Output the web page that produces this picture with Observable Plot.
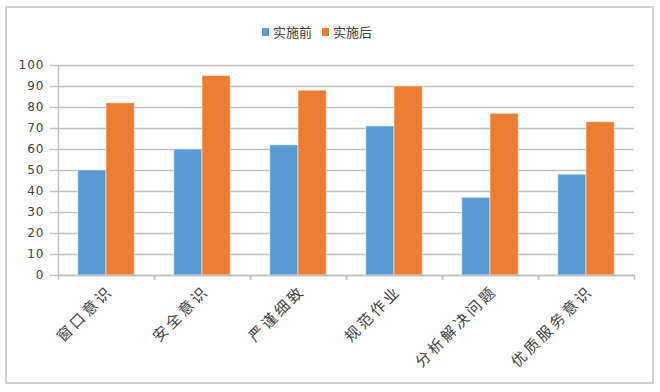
<!DOCTYPE html>
<html>
<head>
<meta charset="utf-8">
<script src="https://cdn.jsdelivr.net/npm/d3@7"></script>
<script src="https://cdn.jsdelivr.net/npm/@observablehq/plot@0.6"></script>
<style>
  html, body { margin: 0; padding: 0; background: #fff; width: 660px; height: 392px; overflow: hidden; }
  #frame { position: absolute; left: 5px; top: 6px; width: 645px; height: 374px; border: 2px solid #d0d0d0; pointer-events: none; }
  #legend { height: 50px; position: relative; font-family: "Noto Sans CJK SC", sans-serif; font-size: 13px; color: #404040; }
  #legend .item { position: absolute; top: 22px; display: flex; align-items: center; }
  #legend .sw { width: 7px; height: 8px; margin-right: 4px; }
  #chart svg { display: block; }
  g[aria-label="fx-axis tick label"] text { letter-spacing: 3px; }
  g[aria-label="y-axis tick label"] text { letter-spacing: 1px; }
</style>
</head>
<body>
<div id="legend"></div>
<div id="chart"></div>
<div id="frame"></div>
<script>
const categories = ["窗口意识", "安全意识", "严谨细致", "规范作业", "分析解决问题", "优质服务意识"];
const seriesNames = ["实施前", "实施后"];
const before = [50, 60, 62, 71, 37, 48];
const after = [82, 95, 88, 90, 77, 73];
const yTicks = [0, 10, 20, 30, 40, 50, 60, 70, 80, 90, 100];
const colors = ["#5b9bd5", "#ed7d31"];

const data = [];
categories.forEach((c, i) => {
  data.push({cat: c, series: seriesNames[0], value: before[i]});
  data.push({cat: c, series: seriesNames[1], value: after[i]});
});

// legend
const legend = document.getElementById("legend");
const lefts = [262, 322];
seriesNames.forEach((s, i) => {
  const it = document.createElement("div");
  it.className = "item";
  it.style.left = lefts[i] + "px";
  it.innerHTML = `<span class="sw" style="background:${colors[i]}"></span><span>${s}</span>`;
  legend.appendChild(it);
});

const W = 660, H = 342;
const mL = 58, mR = 26, mT = 15, mB = 117;
const half = (W - mL - mR) / categories.length / 2;
const gray = "#c0c0c0";

const chart = Plot.plot({
  width: W,
  height: H,
  marginLeft: mL,
  marginRight: mR,
  marginTop: mT,
  marginBottom: mB,
  style: {fontFamily: "'Noto Sans CJK SC', sans-serif", color: "#404040", background: "transparent"},
  fx: {domain: categories, padding: 0, range: [mL, W - mR], label: null},
  x: {domain: seriesNames, paddingInner: 0, paddingOuter: 0.7, round: false, axis: null},
  y: {domain: [0, 100], label: null},
  color: {domain: seriesNames, range: colors},
  marks: [
    Plot.gridY(yTicks, {stroke: gray, strokeOpacity: 1, strokeWidth: 1.5}),
    Plot.frame({anchor: "left", stroke: gray, strokeWidth: 1.5, facetAnchor: "left"}),
    Plot.barY(data, {fx: "cat", x: "series", y: "value", fill: "series", stroke: "#ffffff", strokeOpacity: 0.5, strokeWidth: 1}),
    Plot.ruleY([0], {stroke: gray, strokeWidth: 1.5}),
    Plot.axisY(yTicks, {tickSize: 8, tickPadding: 6, stroke: gray, strokeWidth: 1.5, fill: "#404040", fontSize: 12, fontFamily: "'DejaVu Sans', sans-serif", label: null}),
    Plot.axisFx({anchor: "bottom", tickSize: 0, tickPadding: 13, tickRotate: -45, fontSize: 15, fill: "#404040", label: null, dx: 4}),
    Plot.axisFx({anchor: "bottom", text: null, tickSize: 5, stroke: gray, strokeWidth: 1.5, dx: -half, label: null}),
    Plot.axisFx([categories[categories.length - 1]], {anchor: "bottom", text: null, tickSize: 5, stroke: gray, strokeWidth: 1.5, dx: half, label: null})
  ]
});
document.getElementById("chart").appendChild(chart);
</script>
</body>
</html>
